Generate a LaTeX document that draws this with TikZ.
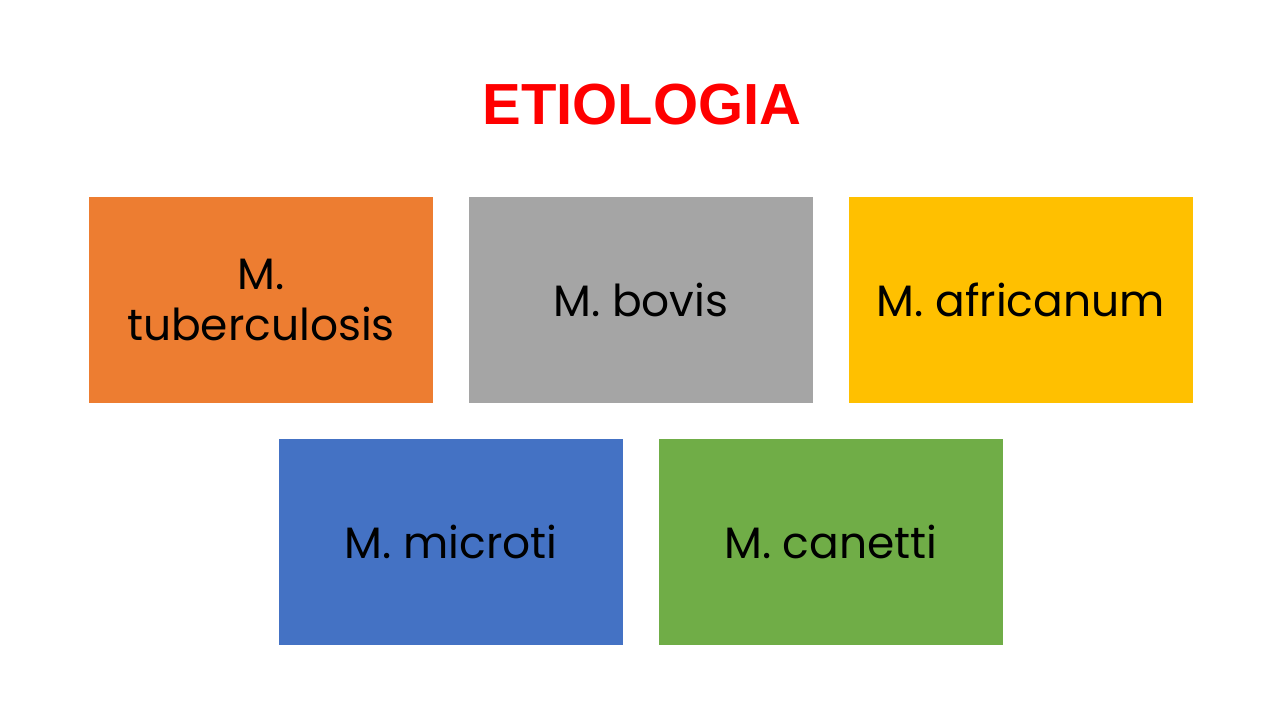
\documentclass[tikz,border=0pt]{standalone}
\usepackage{fontspec}
\setmainfont{Poppins}
\newfontfamily\titlefont{Liberation Sans}
\usetikzlibrary{positioning}
\usetikzlibrary{calc}
\definecolor{boxorange}{HTML}{ED7D31}
\definecolor{boxgray}{HTML}{A5A5A5}
\definecolor{boxgold}{HTML}{FFC000}
\definecolor{boxblue}{HTML}{4472C4}
\definecolor{boxgreen}{HTML}{70AD47}
\definecolor{titlered}{HTML}{FF0000}

\begin{document}
\begin{tikzpicture}[
    species/.style={minimum width=3.44cm, minimum height=2.06cm, inner sep=0pt, align=center,
        font=\fontsize{12.5}{14.5}\selectfont, text=black},
]
    \useasboundingbox[fill=white] (0,0) rectangle (12.8,7.2);

    \node[font=\titlefont\bfseries\fontsize{16.5}{20}\selectfont, text=titlered] (title) at (6.42,6.15) {ETIOLOGIA};

    \node[species, fill=boxorange] (tuber) at (2.61,4.20) {M.\\tuberculosis};
    \node[species, fill=boxgray, right=0.345cm of tuber] (bovis) {M. bovis};
    \node[species, fill=boxgold, right=0.345cm of bovis] (africanum) {M. africanum};

    \coordinate (mid) at ($(tuber.south)!0.5!(bovis.south)$);
    \node[species, fill=boxblue, below=0.345cm of mid] (microti) {M. microti};
    \node[species, fill=boxgreen, right=0.345cm of microti] (canetti) {M. canetti};
\end{tikzpicture}
\end{document}
